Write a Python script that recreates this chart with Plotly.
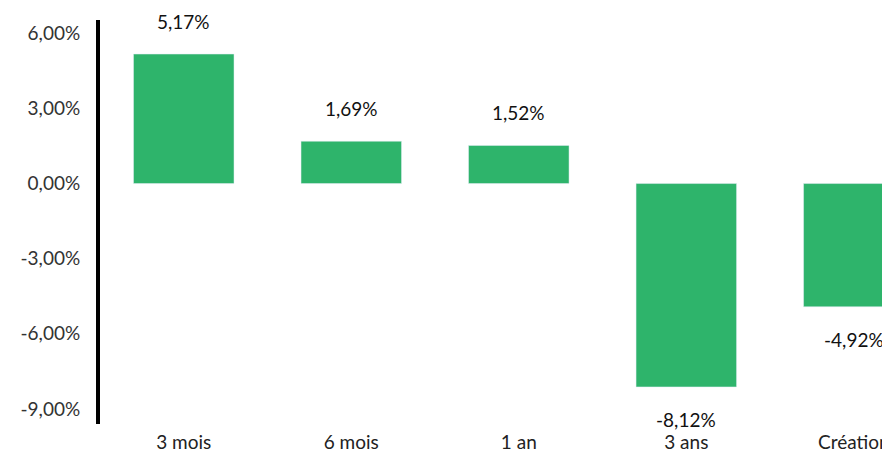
import plotly.graph_objects as go

categories = ["3 mois", "6 mois", "1 an", "3 ans", "Création"]
values = [5.17, 1.69, 1.52, -8.12, -4.92]
tick_values = [-9, -6, -3, 0, 3, 6]

bar_color = "#2EB46B"
font_family = "Lato, 'Noto Sans', sans-serif"

def fmt(v):
    return f"{v:.2f}".replace(".", ",") + "%"

fig = go.Figure()
fig.add_trace(go.Bar(
    x=categories, y=values, marker_color=bar_color, width=0.6,
    hoverinfo="skip",
))

for c, v in zip(categories, values):
    fig.add_annotation(
        x=c, y=v, text=fmt(v), showarrow=False,
        yshift=33 if v >= 0 else -33,
        font=dict(family=font_family, size=19, color="#111111"),
    )

# page body has an 8px margin: shrink the figure so it fits the window exactly
fig.update_layout(
    width=882, height=445,
    margin=dict(l=92, r=0, t=12, b=20),
    plot_bgcolor="white", paper_bgcolor="white",
    separators=", ",
    showlegend=False,
    font=dict(family=font_family, size=19, color="#333333"),
)
fig.update_xaxes(
    range=[-0.5, 4.216], showline=False, showgrid=False, zeroline=False,
    ticks="", ticklabelstandoff=5, tickfont=dict(size=19, color="#222222"),
)
fig.update_yaxes(
    range=[-9.6, 6.53], tickvals=tick_values,
    ticktext=[fmt(t) for t in tick_values],
    showline=True, linewidth=4, linecolor="black",
    showgrid=False, zeroline=False, ticks="", ticklabelstandoff=12,
    tickfont=dict(size=19, color="#333333"),
)

fig.write_html("out.html")
